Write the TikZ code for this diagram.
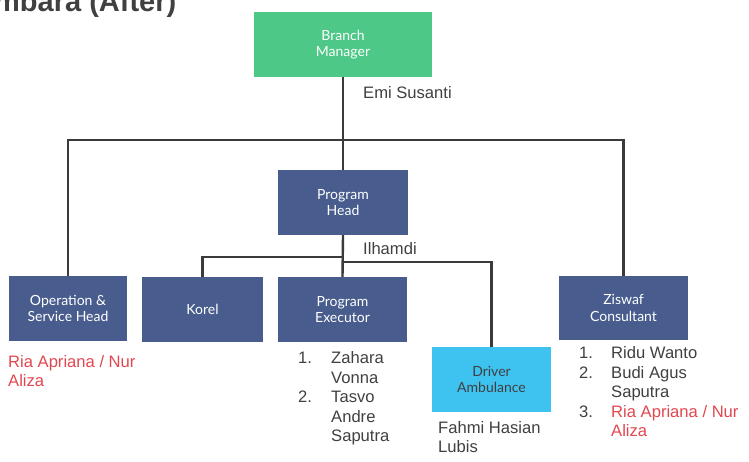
\documentclass[tikz,border=0pt]{standalone}
\usepackage{fontspec}
\setmainfont{Liberation Sans}
\newfontfamily\boxfont{Lato}
\definecolor{bmgreen}{HTML}{4DC887}
\definecolor{boxblue}{HTML}{485D8E}
\definecolor{drvblue}{HTML}{3EC2EF}
\definecolor{linegray}{HTML}{3A3A3A}
\definecolor{txtgray}{HTML}{404040}
\definecolor{txtred}{HTML}{E2474F}
\tikzset{
  orgbox/.style={rectangle, fill=boxblue, text=white, inner sep=0pt, align=center,
    font=\boxfont\fontsize{14}{16.5}\selectfont},
  conn/.style={draw=linegray, line width=2.4pt},
  lbl/.style={anchor=base west, inner sep=0pt, text=txtgray, font=\fontsize{16.6}{19.5}\selectfont},
  rlbl/.style={lbl, text=txtred}
}
\begin{document}
\begin{tikzpicture}[x=1pt,y=-1pt]
\useasboundingbox (0,0) rectangle (749,461);
% title (cut off at top)
\node[anchor=base west, inner sep=0pt, text=txtgray, font=\bfseries\fontsize{29}{30}\selectfont] (title) at (-6,11) {mbara (After)};
% boxes
\node[orgbox, fill=bmgreen, minimum width=178, minimum height=65] (BM) at (343,44.5) {Branch\\Manager};
\node[orgbox, minimum width=130, minimum height=65] (PH) at (343,202.5) {Program\\Head};
\node[orgbox, minimum width=118, minimum height=65] (OSH) at (68,308.5) {Operation \&\\Service Head};
\node[orgbox, minimum width=121, minimum height=65] (KO) at (202.5,309.5) {Korel};
\node[orgbox, minimum width=129, minimum height=65] (PE) at (342.5,309.5) {Program\\Executor};
\node[orgbox, fill=drvblue, text=txtgray, minimum width=119, minimum height=65] (DA) at (491.5,379.5) {Driver\\Ambulance};
\node[orgbox, minimum width=129, minimum height=64] (ZC) at (623.5,308) {Ziswaf\\Consultant};
% junctions
\coordinate (j1) at (343,140);
\coordinate (j2) at (343,257);
\coordinate (j3) at (343,262);
% connectors
\draw[conn] (BM.south) -- (PH.north);
\draw[conn] (OSH.north) |- (j1) -| (ZC.north);
\draw[conn] (PH.south) -- (PE.north);
\draw[conn] (KO.north) |- (j2);
\draw[conn] (j3) -| (DA.north);
% labels
\node[lbl] (emi) at (363,98) {Emi Susanti};
\node[lbl] (ilh) at (363,254) {Ilhamdi};
\node[rlbl] (ria1) at (8,367) {Ria Apriana / Nur};
\node[rlbl] (ria2) at (8,386.5) {Aliza};
% program executor list
\node[lbl] (pen1) at (298,363.5) {1.};
\node[lbl] (pe1a) at (331,363.5) {Zahara};
\node[lbl] (pe1b) at (331,383) {Vonna};
\node[lbl] (pen2) at (298,402.5) {2.};
\node[lbl] (pe2a) at (331,402.5) {Tasvo};
\node[lbl] (pe2b) at (331,422) {Andre};
\node[lbl] (pe2c) at (331,441.5) {Saputra};
% driver
\node[lbl] (fa1) at (438,433) {Fahmi Hasian};
\node[lbl] (fa2) at (438,452.5) {Lubis};
% ziswaf list
\node[lbl] (zn1) at (579,358.5) {1.};
\node[lbl] (z1) at (611,358.5) {Ridu Wanto};
\node[lbl] (zn2) at (579,378) {2.};
\node[lbl] (z2a) at (611,378) {Budi Agus};
\node[lbl] (z2b) at (611,397.5) {Saputra};
\node[lbl] (zn3) at (579,417) {3.};
\node[rlbl] (z3a) at (611,417) {Ria Apriana / Nur};
\node[rlbl] (z3b) at (611,436.5) {Aliza};
\end{tikzpicture}
\end{document}
